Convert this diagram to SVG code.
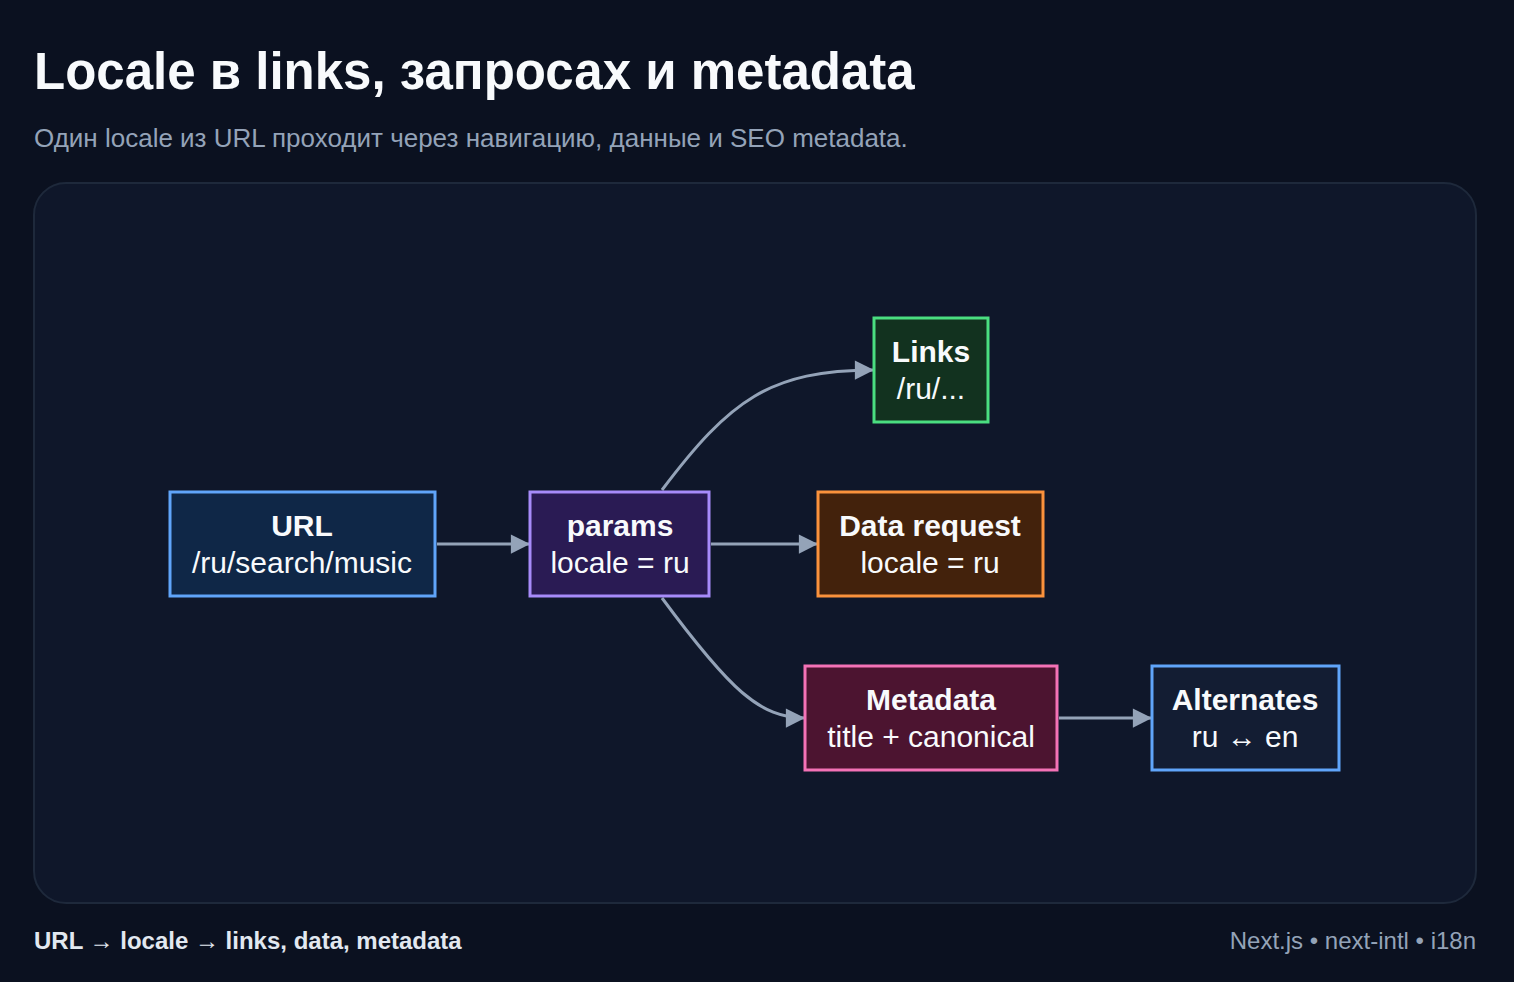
<svg xmlns="http://www.w3.org/2000/svg" width="1514" height="982" viewBox="0 0 1514 982">
<defs>
<style>
.t{font-family:"Liberation Sans",Arial,sans-serif;fill:#f8fafc}
.b{font-weight:bold;font-size:30px}
.r{font-size:30px}
.n{stroke-width:3}
.e{fill:none;stroke:#94a3b8;stroke-width:3;marker-end:url(#a)}
</style>
<marker id="a" viewBox="0 0 10 10" refX="10" refY="5" markerWidth="8" markerHeight="8" markerUnits="userSpaceOnUse" orient="auto" style="overflow:visible">
<path d="M0,0 L10,5 L0,10 Z" fill="#94a3b8" transform="scale(2.4) translate(-5.8,-2.9)"/>
</marker>
</defs>
<rect width="1514" height="982" fill="#0b1120"/>
<text x="34" y="89" class="t" font-size="51" font-weight="bold">Locale в links, запросах и metadata</text>
<text x="34" y="147" class="t" font-size="26" style="fill:#94a3b8">Один locale из URL проходит через навигацию, данные и SEO metadata.</text>
<rect x="34" y="183" width="1442" height="720" rx="32" fill="#0f172a" stroke="#1e293b" stroke-width="2"/>
<g id="edges">
<path class="e" d="M437,544 L530,544"/>
<path class="e" d="M711,544 L818,544"/>
<path class="e" d="M662,490 C730,400 770,370 874,370"/>
<path class="e" d="M662,598 C730,690 760,718 805,718"/>
<path class="e" d="M1059,718 L1152,718"/>
</g>
<g id="url"><rect class="n" x="170" y="492" width="265" height="104" fill="#0f2747" stroke="#60a5fa"/><text class="t b" x="302" y="536" text-anchor="middle">URL</text><text class="t r" x="302" y="573" text-anchor="middle">/ru/search/music</text></g>
<g id="params"><rect class="n" x="530" y="492" width="179" height="104" fill="#2a1b54" stroke="#a78bfa"/><text class="t b" x="620" y="536" text-anchor="middle">params</text><text class="t r" x="620" y="573" text-anchor="middle">locale = ru</text></g>
<g id="links"><rect class="n" x="874" y="318" width="114" height="104" fill="#12321f" stroke="#4ade80"/><text class="t b" x="931" y="362" text-anchor="middle">Links</text><text class="t r" x="931" y="399" text-anchor="middle">/ru/...</text></g>
<g id="data"><rect class="n" x="818" y="492" width="225" height="104" fill="#43220c" stroke="#fb923c"/><text class="t b" x="930" y="536" text-anchor="middle">Data request</text><text class="t r" x="930" y="573" text-anchor="middle">locale = ru</text></g>
<g id="metadata"><rect class="n" x="805" y="666" width="252" height="104" fill="#4c1430" stroke="#f472b6"/><text class="t b" x="931" y="710" text-anchor="middle">Metadata</text><text class="t r" x="931" y="747" text-anchor="middle">title + canonical</text></g>
<g id="alternates"><rect class="n" x="1152" y="666" width="187" height="104" fill="#131d33" stroke="#60a5fa"/><text class="t b" x="1245" y="710" text-anchor="middle">Alternates</text><text class="t r" x="1245" y="747" text-anchor="middle">ru ↔ en</text></g>
<text x="34" y="949" class="t" font-size="24" font-weight="bold" style="fill:#e2e8f0">URL → locale → links, data, metadata</text>
<text x="1476" y="949" class="t" font-size="24" text-anchor="end" style="fill:#94a3b8">Next.js • next-intl • i18n</text>
</svg>
